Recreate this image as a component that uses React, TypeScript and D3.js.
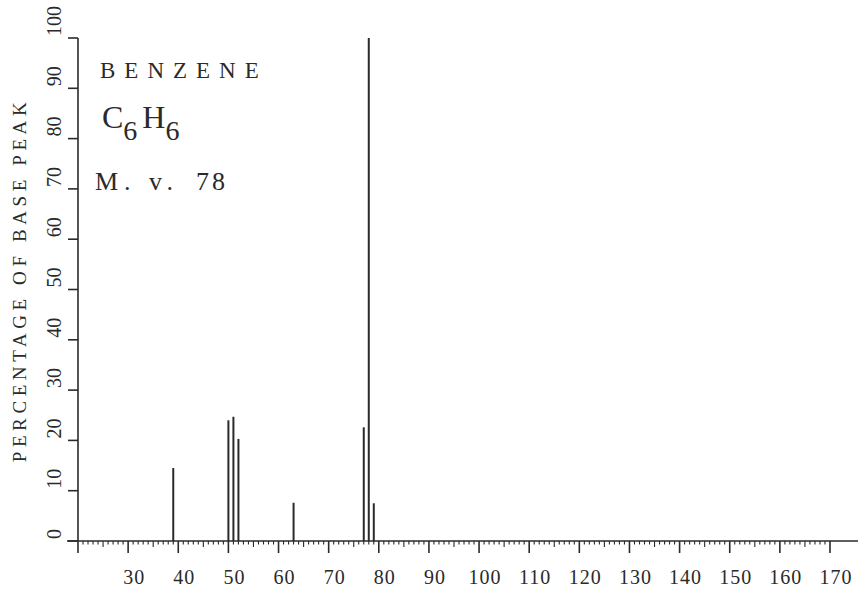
import React, { useEffect, useRef } from "react";
import * as d3 from "d3";

// mass spectrum peaks (m/z and % of base peak)
const massValues = [39, 50, 51, 52, 63, 77, 78, 79];
const intensities = [14.5, 24, 24.7, 20.3, 7.6, 22.6, 100, 7.5];

const xTickLabels = [30, 40, 50, 60, 70, 80, 90, 100, 110, 120, 130, 140, 150, 160, 170];
const yTickLabels = [0, 10, 20, 30, 40, 50, 60, 70, 80, 90, 100];

const compoundName = "BENZENE";
const molWeight = "78";

const App = () => {
  const chartRef = useRef<HTMLDivElement>(null);

  useEffect(() => {
    const width = 867;
    const height = 598;
    const ink = "#2a2a2a";
    const serif = "'Liberation Serif', 'DejaVu Serif', serif";

    d3.select(chartRef.current).selectAll("*").remove();

    const svg = d3.select(chartRef.current)
      .append("svg")
      .attr("width", width)
      .attr("height", height)
      .style("position", "absolute")
      .style("left", 0)
      .style("top", 0)
      .style("background", "#fff");

    const x = d3.scaleLinear().domain([20, 170]).range([78, 830]);
    const y = d3.scaleLinear().domain([0, 100]).range([541, 38]);

    // x axis baseline + ticks every mass unit
    svg.append("line")
      .attr("x1", 67).attr("x2", 858)
      .attr("y1", y(0)).attr("y2", y(0))
      .attr("stroke", ink).attr("stroke-width", 1.6);

    const minor = d3.range(20, 171, 1);
    svg.append("g")
      .selectAll("line")
      .data(minor)
      .enter()
      .append("line")
      .attr("x1", d => x(d)).attr("x2", d => x(d))
      .attr("y1", y(0))
      .attr("y2", d => y(0) + (d % 10 === 0 ? 12 : d % 5 === 0 ? 6 : 3.5))
      .attr("stroke", ink)
      .attr("stroke-width", d => (d % 10 === 0 ? 1.6 : 1.1));

    svg.append("g")
      .selectAll("text")
      .data(xTickLabels)
      .enter()
      .append("text")
      .attr("x", d => x(d) + 6)
      .attr("y", 584)
      .attr("text-anchor", "middle")
      .attr("font-family", serif)
      .attr("font-size", 20)
      .attr("letter-spacing", 1)
      .attr("fill", ink)
      .text(d => d);

    // y axis
    svg.append("line")
      .attr("x1", x(20)).attr("x2", x(20))
      .attr("y1", y(0)).attr("y2", y(100))
      .attr("stroke", ink).attr("stroke-width", 1.6);

    svg.append("g")
      .selectAll("line")
      .data(yTickLabels)
      .enter()
      .append("line")
      .attr("x1", x(20) - 10).attr("x2", x(20))
      .attr("y1", d => y(d)).attr("y2", d => y(d))
      .attr("stroke", ink).attr("stroke-width", 1.6);

    svg.append("g")
      .selectAll("text")
      .data(yTickLabels)
      .enter()
      .append("text")
      .attr("transform", d => `translate(61, ${y(d) - 2}) rotate(-90)`)
      .attr("text-anchor", "start")
      .attr("font-family", serif)
      .attr("font-size", 20)
      .attr("fill", ink)
      .text(d => d);

    svg.append("text")
      .attr("transform", "translate(26, 280) rotate(-90)")
      .attr("text-anchor", "middle")
      .attr("font-family", serif)
      .attr("font-size", 19)
      .attr("letter-spacing", 4.6)
      .attr("fill", ink)
      .text("PERCENTAGE OF BASE PEAK");

    // peaks
    svg.append("g")
      .selectAll("line")
      .data(massValues.map((m, i) => ({ m, v: intensities[i] })))
      .enter()
      .append("line")
      .attr("x1", d => x(d.m)).attr("x2", d => x(d.m))
      .attr("y1", y(0)).attr("y2", d => y(d.v))
      .attr("stroke", ink)
      .attr("stroke-width", 2);

    // compound annotation
    svg.append("text")
      .attr("x", 100).attr("y", 78)
      .attr("font-family", serif)
      .attr("font-size", 23)
      .attr("letter-spacing", 9)
      .attr("fill", ink)
      .text(compoundName);

    const formula = svg.append("text")
      .attr("x", 102).attr("y", 128)
      .attr("font-family", serif)
      .attr("font-size", 32)
      .attr("fill", ink);
    formula.append("tspan").text("C");
    formula.append("tspan").attr("dy", 12).attr("font-size", 28).text("6");
    formula.append("tspan").attr("dy", -12).attr("dx", 5).text("H");
    formula.append("tspan").attr("dy", 12).attr("font-size", 28).text("6");

    svg.append("text")
      .attr("x", 95).attr("y", 190)
      .attr("font-family", serif)
      .attr("font-size", 26)
      .attr("letter-spacing", 6)
      .attr("fill", ink)
      .text("M. v.");

    svg.append("text")
      .attr("x", 196).attr("y", 190)
      .attr("font-family", serif)
      .attr("font-size", 26)
      .attr("letter-spacing", 3)
      .attr("fill", ink)
      .text(molWeight);
  }, []);

  return <div ref={chartRef}></div>;
};

export default App;
